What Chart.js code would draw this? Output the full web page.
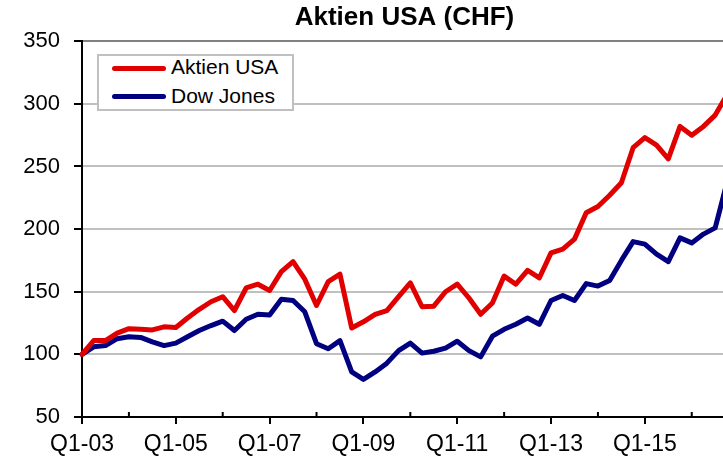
<!DOCTYPE html>
<html>
<head>
<meta charset="utf-8">
<script src="https://cdn.jsdelivr.net/npm/chart.js@4.4.1/dist/chart.umd.min.js"></script>
<style>
  html, body { margin: 0; padding: 0; overflow: hidden; background: #fff; }
  #wrap { position: relative; width: 809px; height: 460px; }
  #legend { position: absolute; left: 97px; top: 54px; width: 193px; height: 53px;
    border: 2px solid #c0c0c0; background: #fff; }
  .lg-line { position: absolute; height: 5px; border-radius: 2.5px; }
  .lg-text { position: absolute; font: 21px "Liberation Sans", Arial, sans-serif;
    line-height: 24px; color: #000; white-space: nowrap; }
</style>
</head>
<body>
<div id="wrap">
  <canvas id="myChart" width="809" height="460"></canvas>
  <div id="legend"></div>
</div>
<script>
// quarters shown on the category axis (the chart is cut off on the right)
const quarters = [
  "Q1-03", "Q2-03", "Q3-03", "Q4-03", "Q1-04", "Q2-04", "Q3-04", "Q4-04",
  "Q1-05", "Q2-05", "Q3-05", "Q4-05", "Q1-06", "Q2-06", "Q3-06", "Q4-06",
  "Q1-07", "Q2-07", "Q3-07", "Q4-07", "Q1-08", "Q2-08", "Q3-08", "Q4-08",
  "Q1-09", "Q2-09", "Q3-09", "Q4-09", "Q1-10", "Q2-10", "Q3-10", "Q4-10",
  "Q1-11", "Q2-11", "Q3-11", "Q4-11", "Q1-12", "Q2-12", "Q3-12", "Q4-12",
  "Q1-13", "Q2-13", "Q3-13", "Q4-13", "Q1-14", "Q2-14", "Q3-14", "Q4-14",
  "Q1-15", "Q2-15", "Q3-15", "Q4-15", "Q1-16", "Q2-16", "Q3-16", "Q4-16",
  "Q1-17", "Q2-17", "Q3-17", "Q4-17", "Q1-18", "Q2-18", "Q3-18",
];
const xTickLabels = ["Q1-03", "Q1-05", "Q1-07", "Q1-09", "Q1-11", "Q1-13", "Q1-15"];
const yMin = 50;
const yMax = 350;
const yStep = 50;

const seriesNames = ["Aktien USA", "Dow Jones"];
const aktienUSA = [
  100, 111, 111, 117, 120.5, 120, 119.5, 122,
  121.5, 129, 136, 142, 146, 135, 153, 156,
  151, 166, 174, 160, 139, 158, 164, 121,
  126, 132, 135, 146, 157, 138, 138.5, 150,
  156, 145, 132, 141, 162.5, 156, 167, 161,
  181, 184, 192, 213, 218, 227, 237, 265,
  273, 267, 256, 282, 275, 282, 291, 307,
];
const dowJones = [
  100, 106, 107, 112.5, 114, 113.5, 110, 107,
  109, 114, 119, 123, 126.5, 119, 128, 132,
  131.5, 144, 143, 134, 108.5, 104.5, 111, 86,
  80, 86, 93, 103, 109, 101, 102.5, 105,
  110.5, 103, 98, 114.5, 120, 124, 129, 124,
  143, 147, 143, 156.5, 154.5, 159, 175, 190,
  188, 180, 174, 193, 189, 196, 201, 237,
];

const colors = ["#e00000", "#000080"];
const FONT = "'Liberation Sans', Arial, sans-serif";

// small inside ticks between the labelled quarters
const minorTicks = {
  id: "minorTicks",
  afterDraw(chart) {
    const x = chart.scales.x;
    const bottom = chart.chartArea.bottom;
    const c = chart.ctx;
    c.save();
    c.strokeStyle = "#000";
    c.lineWidth = 2;
    c.beginPath();
    quarters.forEach((q, i) => {
      if (i % 8 === 4) {
        const px = x.getPixelForValue(i);
        c.moveTo(px, bottom);
        c.lineTo(px, bottom - 5);
      }
    });
    c.stroke();
    c.restore();
  },
};

const ctx = document.getElementById("myChart").getContext("2d");
const myChart = new Chart(ctx, {
  type: "line",
  data: {
    labels: quarters,
    datasets: [
      { label: seriesNames[0], data: aktienUSA, borderColor: colors[0], backgroundColor: colors[0] },
      { label: seriesNames[1], data: dowJones, borderColor: colors[1], backgroundColor: colors[1] },
    ],
  },
  options: {
    responsive: false,
    animation: false,
    layout: { padding: 0 },
    elements: {
      line: { borderWidth: 5, tension: 0, borderJoinStyle: "round", borderCapStyle: "round" },
      point: { radius: 0 },
    },
    plugins: {
      legend: { display: false },
      tooltip: { enabled: false },
      title: {
        display: true,
        text: "Aktien USA (CHF)",
        color: "#000",
        font: { family: FONT, size: 26, weight: "bold" },
        padding: { top: 2, bottom: 8 },
      },
    },
    scales: {
      x: {
        afterFit: (s) => {
          s.height = 43;
          s.paddingLeft = 0;
          s.paddingRight = 0;
        },
        border: { color: "#000", width: 2 },
        grid: {
          drawOnChartArea: false,
          drawTicks: true,
          tickLength: 7,
          lineWidth: 2,
          tickColor: (c) => (c.index % 8 === 0 ? "#000" : "rgba(0,0,0,0)"),
        },
        ticks: {
          autoSkip: false,
          maxRotation: 0,
          minRotation: 0,
          padding: 7,
          color: "#000",
          font: { family: FONT, size: 23 },
          callback: (v, i) => (xTickLabels.includes(quarters[i]) ? quarters[i] : ""),
        },
      },
      y: {
        min: yMin,
        max: yMax,
        afterFit: (s) => { s.width = 82; },
        border: { color: "#000", width: 2 },
        grid: {
          lineWidth: 2,
          tickLength: 8,
          tickColor: "#000",
          color: (c) => (c.tick && c.tick.value === yMax ? "#808080" : "#c0c0c0"),
        },
        ticks: {
          stepSize: yStep,
          padding: 14,
          color: "#000",
          font: { family: FONT, size: 22 },
        },
      },
    },
  },
  plugins: [minorTicks],
});

// legend box inside the plot
const legendTops = [[68.5, 55], [96.5, 84]];
const $legend = document.getElementById("legend");
seriesNames.forEach((name, i) => {
  const line = document.createElement("div");
  line.className = "lg-line";
  line.style.cssText = `left:${112 - 99}px;top:${legendTops[i][0] - 2.5 - 56}px;width:54px;background:${colors[i]};`;
  const txt = document.createElement("span");
  txt.className = "lg-text";
  txt.style.cssText = `left:${171 - 99}px;top:${legendTops[i][1] - 56}px;`;
  txt.textContent = name;
  $legend.appendChild(line);
  $legend.appendChild(txt);
});
</script>
</body>
</html>
